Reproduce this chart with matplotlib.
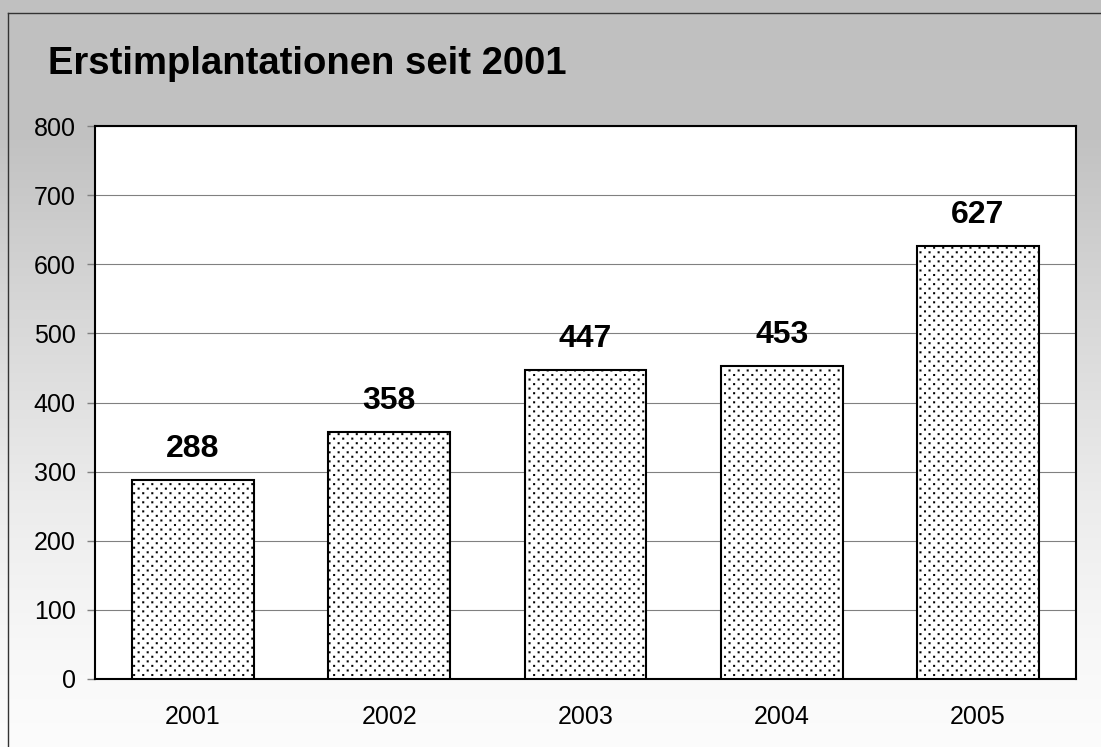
import numpy as np
import matplotlib
matplotlib.use("Agg")
import matplotlib.pyplot as plt
import matplotlib.hatch as mhatch
from matplotlib.path import Path
from matplotlib.lines import Line2D

# ---- data ----
years = ["2001", "2002", "2003", "2004", "2005"]
counts = [288, 358, 447, 453, 627]
y_ticks = [0, 100, 200, 300, 400, 500, 600, 700, 800]
title = "Erstimplantationen seit 2001"

W, H = 1101, 747
plt.rcParams['font.family'] = ['Liberation Sans', 'DejaVu Sans']
plt.rcParams['hatch.linewidth'] = 0.1
plt.rcParams['hatch.color'] = 'black'


# custom staggered square-dot hatch (like the original dotted fill)
class SquareDots(mhatch.HatchPatternBase):
    rows = 22
    cols = 11
    half = 0.0095

    def __init__(self, hatch, density):
        self.pts = []
        if hatch.count('.') > 0:
            for r in range(self.rows):
                yy = (r + 0.5) / self.rows
                off = 0.0 if r % 2 == 0 else 0.5
                for c in range(self.cols):
                    xx = (c + 0.25 + off) / self.cols
                    self.pts.append((xx, yy))
        self.num_vertices = len(self.pts) * 5

    def set_vertices_and_codes(self, vertices, codes):
        h = self.half
        sq = np.array([[-h, -h], [h, -h], [h, h], [-h, h], [-h, -h]])
        cs = [Path.MOVETO, Path.LINETO, Path.LINETO, Path.LINETO, Path.CLOSEPOLY]
        for i, (xx, yy) in enumerate(self.pts):
            vertices[i * 5:(i + 1) * 5] = sq + (xx, yy)
            codes[i * 5:(i + 1) * 5] = cs


mhatch._hatch_types = [SquareDots]

fig = plt.figure(figsize=(W / 100, H / 100), dpi=100)

# gradient background
bg = fig.add_axes([0, 0, 1, 1], zorder=-5)
ys = np.arange(H)
vals = np.interp(ys, [0, 140, 300, 500, 650, 747], [192, 194, 214, 236, 248, 252]) / 255.0
img = np.repeat(vals[:, None], 4, axis=1)
rgb = np.dstack([img, img, img])
bg.imshow(rgb, aspect='auto', extent=[0, 1, 0, 1], origin='upper', interpolation='bilinear')
bg.set_xlim(0, 1)
bg.set_ylim(0, 1)
bg.axis('off')

# frame lines
fig.add_artist(Line2D([8 / W, 8 / W], [0, 1 - 13 / H], transform=fig.transFigure,
                      color='#333333', lw=1.0))
fig.add_artist(Line2D([8 / W, 1], [1 - 13 / H, 1 - 13 / H], transform=fig.transFigure,
                      color='#333333', lw=1.0))

# title
fig.text(48 / W, 1 - 74 / H, title, fontsize=27.5, fontweight='bold',
         ha='left', va='baseline', color='black')

ax = fig.add_axes([95 / W, (H - 679) / H, 981 / W, 553 / H], zorder=1)
ax.set_facecolor('white')
x = np.arange(len(years))
bars = ax.bar(x, counts, width=0.62, color='white', edgecolor='black',
              linewidth=1.5, hatch='.', zorder=3)

for xi, v in zip(x, counts):
    ax.annotate(str(v), (xi, v), xytext=(0, 16.5), textcoords='offset points',
                ha='center', va='baseline', fontsize=23, fontweight='bold', zorder=4)

ax.set_xlim(-0.5, len(years) - 0.5)
ax.set_ylim(0, 800)
ax.set_yticks(y_ticks)
ax.set_yticklabels([str(t) for t in y_ticks])
ax.set_xticks(x)
ax.set_xticklabels(years)
ax.yaxis.grid(True, color='#808080', linewidth=0.8, zorder=0)
ax.set_axisbelow(True)
ax.tick_params(axis='y', direction='out', length=5.8, width=1, color='#808080',
               pad=8, labelsize=18, labelcolor='black')
ax.tick_params(axis='x', length=0, pad=19, labelsize=18, labelcolor='black')
for s in ax.spines.values():
    s.set_linewidth(1.5)
    s.set_color('black')

fig.savefig('out.png', dpi=100)
